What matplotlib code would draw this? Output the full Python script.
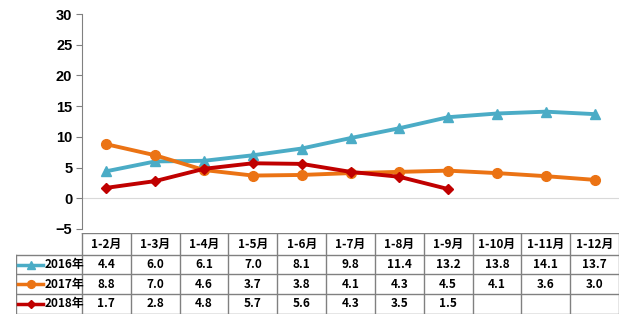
import numpy as np
import matplotlib.pyplot as plt

plt.rcParams['font.family'] = ['Noto Sans CJK SC', 'DejaVu Sans']

months = ['1-2月', '1-3月', '1-4月', '1-5月', '1-6月', '1-7月', '1-8月',
          '1-9月', '1-10月', '1-11月', '1-12月']
years = ['2016年', '2017年', '2018年']
v2016 = [4.4, 6.0, 6.1, 7.0, 8.1, 9.8, 11.4, 13.2, 13.8, 14.1, 13.7]
v2017 = [8.8, 7.0, 4.6, 3.7, 3.8, 4.1, 4.3, 4.5, 4.1, 3.6, 3.0]
v2018 = [1.7, 2.8, 4.8, 5.7, 5.6, 4.3, 3.5, 1.5]
yticks = [-5, 0, 5, 10, 15, 20, 25, 30]

BLUE = '#4bacc6'
ORANGE = '#eb7314'
RED = '#c00000'
GRID = '#808080'

W, H = 630, 325
fig = plt.figure(figsize=(W / 100, H / 100), dpi=100)

# main plot area in pixel units
px_l, px_r, px_t, px_b = 82, 619, 14, 229
ax = fig.add_axes([px_l / W, 1 - px_b / H, (px_r - px_l) / W, (px_b - px_t) / H])

series = [(v2016, BLUE, '^', 7), (v2017, ORANGE, 'o', 7), (v2018, RED, 'D', 5.5)]
for vals, c, m, ms in series:
    x = np.arange(len(vals))
    ax.plot(x, vals, color=c, marker=m, markersize=ms, linewidth=2.8, zorder=3)

ax.axhline(0, color='#d9d9d9', linewidth=0.8, zorder=1)
ax.set_xlim(-0.5, len(months) - 0.5)
ax.set_ylim(-5, 30)
ax.set_yticks(yticks)
ax.set_yticklabels([str(t).replace('-', '\u2212') for t in yticks],
                   fontweight='bold', fontsize=10.5, family='Liberation Sans')
ax.set_xticks([])
for s in ['top', 'right', 'bottom']:
    ax.spines[s].set_visible(False)
ax.spines['left'].set_color(GRID)
ax.tick_params(axis='y', length=4, color=GRID, pad=3)

# data table below
unit = (px_r - px_l) / len(months)
tl, tt, tb = 16, 233, 314
tax = fig.add_axes([tl / W, 1 - tb / H, (px_r - tl) / W, (tb - tt) / H])
left = -0.5 - (px_l - tl) / unit
row_edges = [0, 1.1, 2.1, 3.1, 4.1]
tax.set_xlim(left, len(months) - 0.5)
tax.set_ylim(row_edges[-1] + 0.02, -0.02)
tax.axis('off')

lw = 1.0
# horizontal lines
tax.plot([-0.5, len(months) - 0.5], [0, 0], color=GRID, lw=lw)
for r in row_edges[1:]:
    tax.plot([left, len(months) - 0.5], [r, r], color=GRID, lw=lw)
# vertical lines
tax.plot([left, left], [row_edges[1], row_edges[-1]], color=GRID, lw=lw)
for i in range(len(months) + 1):
    tax.plot([i - 0.5, i - 0.5], [0, row_edges[-1]], color=GRID, lw=lw)

for i, mth in enumerate(months):
    tax.text(i, 0.55, mth, ha='center', va='center', fontsize=8.5, fontweight='bold')

for r, (vals, c, m, ms) in enumerate(series):
    yc = (row_edges[r + 1] + row_edges[r + 2]) / 2
    tax.plot([left + 0.05, left + 0.55], [yc, yc], color=c, lw=2.5)
    tax.plot([left + 0.3], [yc], color=c, marker=m, markersize=ms * 0.8)
    tax.text(left + 0.58, yc, years[r], ha='left', va='center', fontsize=8.5, fontweight='bold')
    for i, v in enumerate(vals):
        tax.text(i, yc, f'{v:.1f}', ha='center', va='center', fontsize=8.5, fontweight='bold')

fig.savefig('out.png', dpi=100)
